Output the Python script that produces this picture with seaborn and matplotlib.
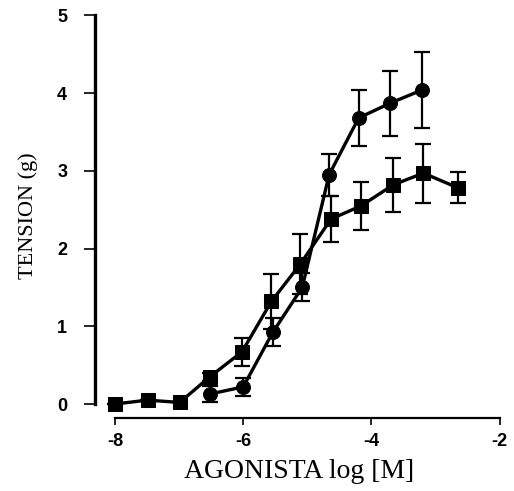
import numpy as np
import pandas as pd
import matplotlib
matplotlib.use("Agg")
import matplotlib.pyplot as plt
import seaborn as sns

# squares series
square_x = [-8.0, -7.49, -6.99, -6.52, -6.02, -5.56, -5.11, -4.63, -4.16, -3.66, -3.19, -2.65]
square_y = [0.0, 0.05, 0.02, 0.35, 0.67, 1.32, 1.80, 2.38, 2.55, 2.82, 2.97, 2.78]
square_err = [0.0, 0.0, 0.0, 0.05, 0.18, 0.35, 0.39, 0.30, 0.31, 0.35, 0.38, 0.20]

# circles series
circle_x = [-6.51, -6.0, -5.54, -5.08, -4.66, -4.2, -3.71, -3.21]
circle_y = [0.13, 0.22, 0.92, 1.50, 2.95, 3.68, 3.87, 4.04]
circle_err = [0.10, 0.12, 0.18, 0.18, 0.27, 0.36, 0.42, 0.49]

x_ticks = [-8, -6, -4, -2]
y_ticks = [0, 1, 2, 3, 4, 5]

df = pd.concat([
    pd.DataFrame({"x": square_x, "y": square_y, "serie": "cuadrado"}),
    pd.DataFrame({"x": circle_x, "y": circle_y, "serie": "circulo"}),
])

sns.set_style("ticks")
plt.rcParams["font.family"] = ["Liberation Sans", "DejaVu Sans"]
# plain black everywhere, like the scanned figure
for key in ["text.color", "axes.labelcolor", "axes.edgecolor", "xtick.color", "ytick.color"]:
    plt.rcParams[key] = "black"

fig = plt.figure(figsize=(5.14, 4.91), dpi=100)
ax = fig.add_axes([95 / 514, 73 / 491, 408 / 514, 405 / 491])

# error bars first so markers sit on top
ax.errorbar(square_x, square_y, yerr=square_err, fmt="none", ecolor="black",
            elinewidth=1.6, capsize=6, capthick=1.6, zorder=2)
ax.errorbar(circle_x, circle_y, yerr=circle_err, fmt="none", ecolor="black",
            elinewidth=1.6, capsize=6, capthick=1.6, zorder=2)

sns.lineplot(data=df, x="x", y="y", style="serie", markers={"cuadrado": "s", "circulo": "o"},
             dashes=False, color="black", linewidth=2.4, markersize=10, sort=False,
             legend=False, ax=ax, zorder=3)
for ln in ax.lines:
    ln.set_markeredgecolor("black")
    ln.set_markerfacecolor("black")

ax.set_xlim(-8.31, -1.95)
ax.set_ylim(-0.18, 5.03)
ax.set_xticks(x_ticks)
ax.set_yticks(y_ticks)
ax.set_xticklabels([str(t) for t in x_ticks])
ax.set_yticklabels([str(t) for t in y_ticks])

sns.despine(ax=ax)
ax.spines["left"].set_bounds(0, 5)
ax.spines["bottom"].set_bounds(-8, -2)
ax.spines["left"].set_linewidth(2.4)
ax.spines["bottom"].set_linewidth(1.6)

ax.tick_params(axis="both", direction="out", color="black", labelcolor="black",
               labelsize=13, width=1.2)
ax.tick_params(axis="y", length=8, pad=12)
ax.tick_params(axis="x", length=5, pad=6)
for lab in ax.get_xticklabels() + ax.get_yticklabels():
    lab.set_fontweight("bold")

ax.set_xlabel("AGONISTA log [M]", family=["Liberation Serif", "DejaVu Serif"],
              fontsize=20, labelpad=6, color="black")
ax.set_ylabel("TENSION (g)", family=["Liberation Serif", "DejaVu Serif"],
              fontsize=16, labelpad=14, color="black")

fig.savefig("out.png", dpi=100)
